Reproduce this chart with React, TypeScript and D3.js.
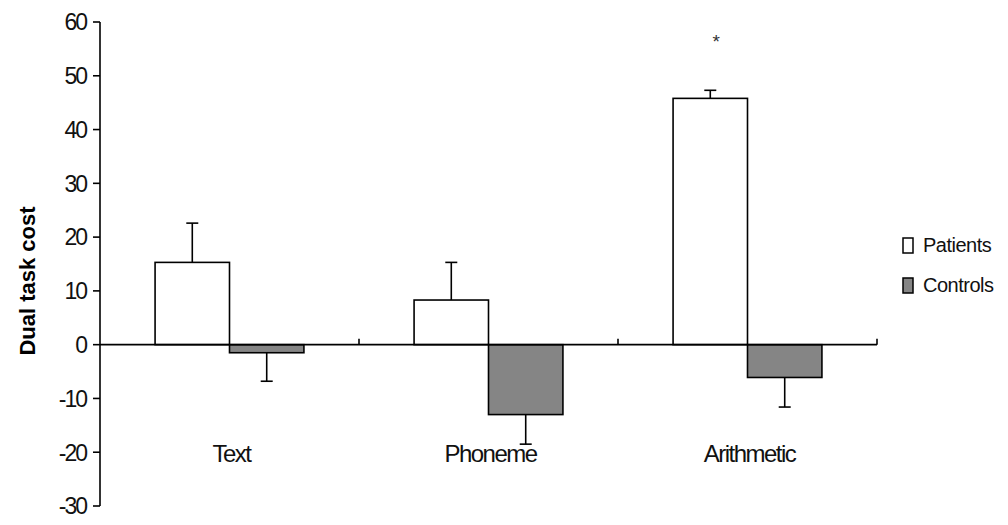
import React from 'react'
import * as d3 from 'd3'

const categories = ['Text', 'Phoneme', 'Arithmetic']
const seriesNames = ['Patients', 'Controls']
const patients = [15.3, 8.3, 45.8]
const patientsErr = [22.6, 15.3, 47.3]
const controls = [-1.5, -13.0, -6.1]
const controlsErr = [-6.8, -18.5, -11.6]
const yTicks = [-30, -20, -10, 0, 10, 20, 30, 40, 50, 60]
const marks = ['', '', '*']

const fills = ['#ffffff', '#858585']

const W = 1008
const H = 525
const left = 100
const right = 877
const top = 22
const bottom = 506

export default function App() {
  const x = d3.scaleBand<string>().domain(categories).range([left, right])
  const inner = d3
    .scaleBand<string>()
    .domain(seriesNames)
    .range([0, x.bandwidth()])
    .paddingOuter(0.74)
    .paddingInner(0)
  const y = d3.scaleLinear().domain([-30, 60]).range([bottom, top])
  const font = 'Liberation Sans, Arial, sans-serif'
  const vals = [patients, controls]
  const errs = [patientsErr, controlsErr]

  return (
    <svg width={W} height={H} style={{ position: 'absolute', left: 0, top: 0 }}>
      <rect width={W} height={H} fill="#fff" />
      {/* bars and error bars */}
      {categories.map((c, i) => (
        <g key={c}>
          {seriesNames.map((s, k) => {
            const bx = x(c)! + inner(s)!
            const bw = inner.bandwidth()
            const v = vals[k][i]
            const e = errs[k][i]
            const cx = bx + bw / 2
            return (
              <g key={s}>
                <line x1={cx} x2={cx} y1={y(v)} y2={y(e)} stroke="#000" strokeWidth={1.6} />
                <line x1={cx - 6} x2={cx + 6} y1={y(e)} y2={y(e)} stroke="#000" strokeWidth={1.6} />
                <rect
                  x={bx}
                  width={bw}
                  y={Math.min(y(v), y(0))}
                  height={Math.abs(y(v) - y(0))}
                  fill={fills[k]}
                  stroke="#000"
                  strokeWidth={1.6}
                />
              </g>
            )
          })}
          {marks[i] && (
            <text
              x={x(c)! + inner('Patients')! + inner.bandwidth() / 2 + 6}
              y={y(patientsErr[i]) - 42}
              textAnchor="middle"
              fontFamily={font}
              fontSize={19}
              fill="#333"
            >
              {marks[i]}
            </text>
          )}
        </g>
      ))}
      {/* x axis at zero */}
      <line x1={left} x2={right} y1={y(0)} y2={y(0)} stroke="#000" strokeWidth={1.6} />
      {categories.map(c => (
        <line
          key={c}
          x1={x(c)! + x.bandwidth()}
          x2={x(c)! + x.bandwidth()}
          y1={y(0)}
          y2={y(0) - 6}
          stroke="#000"
          strokeWidth={1.6}
        />
      ))}
      {categories.map(c => (
        <text
          key={c}
          x={x(c)! + x.bandwidth() / 2 + 2}
          y={462}
          textAnchor="middle"
          fontFamily={font}
          fontSize={24}
          fill="#111"
          stroke="#fff"
          strokeWidth={3}
          paintOrder="stroke"
          letterSpacing={-1.5}
        >
          {c}
        </text>
      ))}
      {/* y axis */}
      <line x1={left} x2={left} y1={top} y2={bottom} stroke="#000" strokeWidth={1.6} />
      {yTicks.map(t => (
        <g key={t}>
          <line x1={left - 7} x2={left} y1={y(t)} y2={y(t)} stroke="#000" strokeWidth={1.6} />
          <text
            x={left - 14}
            y={y(t)}
            dy="0.36em"
            textAnchor="end"
            fontFamily={font}
            fontSize={23}
            fill="#111"
            letterSpacing={-2}
          >
            {t}
          </text>
        </g>
      ))}
      <text
        transform="translate(35,281) rotate(-90)"
        textAnchor="middle"
        fontFamily={font}
        fontSize={22}
        fontWeight="bold"
        fill="#000"
      >
        Dual task cost
      </text>
      {/* legend */}
      {seriesNames.map((s, k) => (
        <g key={s} transform={`translate(903,${245 + k * 40})`}>
          <rect x={0} y={-7} width={10} height={15} fill={fills[k]} stroke="#000" strokeWidth={1.5} />
          <text x={20} y={0} dy="0.36em" fontFamily={font} fontSize={20} fill="#111" letterSpacing={-0.5}>
            {s}
          </text>
        </g>
      ))}
    </svg>
  )
}
